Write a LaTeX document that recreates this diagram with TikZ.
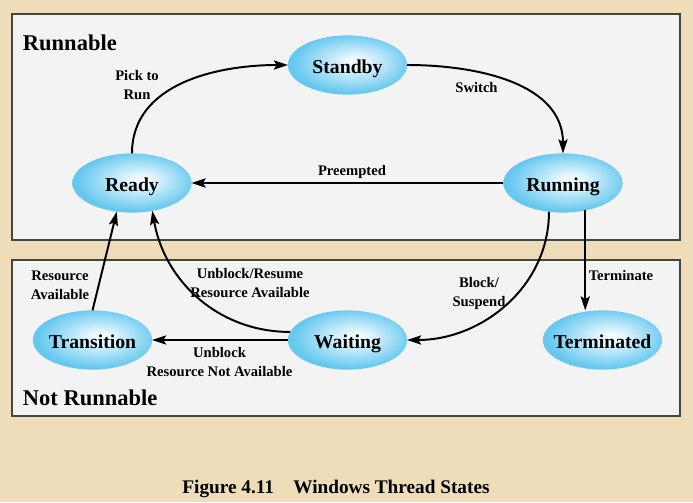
\documentclass[tikz,border=0pt]{standalone}
\usepackage{fontspec}
\setmainfont{Liberation Serif}
\usetikzlibrary{arrows.meta, shapes.geometric}
\definecolor{cparch}{HTML}{EEDDB8}
\definecolor{cpanel}{HTML}{F3F3F3}
\definecolor{cframe}{HTML}{444444}
\definecolor{cbubin}{HTML}{F2FBFF}
\definecolor{cbubout}{HTML}{66C8EF}
\pgfdeclareradialshading{bubble}{\pgfpoint{4bp}{3bp}}{color(0bp)=(cbubin); color(3bp)=(cbubin); color(25bp)=(cbubout); color(50bp)=(cbubout)}
\tikzset{
  every picture/.style={font=\bfseries, line width=1.4pt},
  state/.style={ellipse, shade, shading=bubble, minimum width=2.98cm, minimum height=1.48cm, inner xsep=-8pt, inner ysep=0pt, outer sep=0pt, text height=12pt, text depth=0.6pt, font=\fontsize{14}{16}\selectfont\bfseries},
  trans/.style={-{Stealth[length=10pt, width=6.5pt, inset=2pt]}, draw=black, line width=1.4pt},
  panel/.style={draw=cframe, fill=cpanel, line width=1pt},
  lbl/.style={font=\fontsize{10.4}{13.5}\selectfont\bfseries, align=center, inner sep=0pt},
  zone/.style={font=\fontsize{16}{18}\selectfont\bfseries, inner sep=0pt, anchor=west},
}

\begin{document}
\begin{tikzpicture}[x=0.025cm, y=0.025cm]
  \fill[cparch] (0,0) rectangle (693,-502);
  \draw[panel] (12,-14) rectangle (680,-240);
  \draw[panel] (12,-260) rectangle (680,-416);
  \node[zone] (runnableLbl) at (22,-43) {Runnable};
  \node[zone] (notRunnableLbl) at (22,-398) {Not Runnable};
  % states
  \node[state] (standby) at (347.5,-65) {Standby};
  \node[state] (ready) at (132,-183) {Ready};
  \node[state] (running) at (563,-183) {Running};
  \node[state] (transition) at (92.5,-340) {Transition};
  \node[state] (waiting) at (347.5,-340) {Waiting};
  \node[state] (terminated) at (602.5,-340) {Terminated};
  % pick to run
  \draw[trans] (ready.north) to[out=90, in=180] (standby.west);
  \node[lbl] (pickLbl) at (137,-85) {Pick to\\Run};
  % switch
  \draw[trans] (standby.east) to[out=0, in=90] (running.north);
  \node[lbl] (switchLbl) at (476.5,-87) {Switch};
  % preempted
  \draw[trans] (running.west) -- (ready.east);
  \node[lbl] (preemptLbl) at (352,-172) {Preempted};
  % block / suspend
  \draw[trans] (running.-116) to[out=-90, in=0] (waiting.east);
  \node[lbl] (blockLbl) at (479,-293) {Block/\\Suspend};
  % terminate
  \draw[trans] (running.-51) -- (running.-51 |- terminated.north);
  \node[lbl] (termLbl) at (621,-275) {Terminate};
  % unblock, resource available
  \draw[trans] (waiting.172) to[out=180, in=-80] (ready.-54);
  \node[lbl] (resumeLbl) at (250,-283) {Unblock/Resume\\Resource Available};
  % unblock, resource not available
  \draw[trans] (waiting.west) -- (transition.east);
  \node[lbl] (notAvailLbl) at (219.5,-362) {Unblock\\Resource Not Available};
  % resource available
  \draw[trans] (transition.north) -- (ready.-118);
  \node[lbl] (availLbl) at (60,-285) {Resource\\Available};
  \node[font=\fontsize{13.7}{16}\selectfont\bfseries] (caption) at (336,-489) {Figure 4.11\quad Windows Thread States};
\end{tikzpicture}
\end{document}
